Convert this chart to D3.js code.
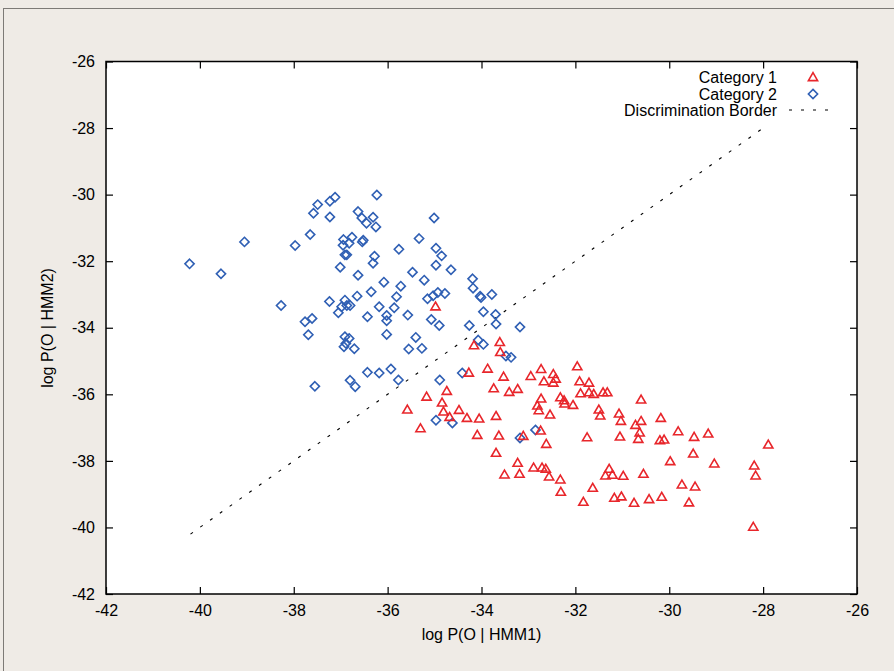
<!DOCTYPE html>
<html lang="en">
<head>
    <meta charset="utf-8">
    <title>HMM discrimination scatter</title>
    <style>
    body {
        margin: 0;
        background: #efebe6;
    }
    text {
        font-family: "Liberation Sans", Arial, Helvetica, sans-serif;
        fill: black;
    }
    </style>
    <script src="https://d3js.org/d3.v7.min.js"></script>
</head>
<body>
<script type="text/javascript">
// Category 1 (red triangles)
const cat1X = [-34.98,-34.16,-33.61,-33.60,-34.27,-33.87,-33.53,-32.95,-32.73,-32.67,
    -32.47,-32.42,-32.47,-33.74,-33.41,-33.23,-34.74,-35.17,-35.58,-34.84,
    -34.81,-34.48,-34.68,-34.31,-34.05,-33.69,-32.73,-32.81,-32.78,-32.54,
    -32.32,-35.30,-31.96,-31.91,-34.09,-33.63,-33.11,-32.74,-32.62,-33.69,
    -33.23,-33.51,-33.19,-32.89,-32.71,-32.63,-32.56,-32.32,-32.31,-32.24,
    -32.23,-32.05,-31.71,-31.89,-31.71,-31.61,-31.41,-31.32,-30.60,-31.50,
    -31.47,-31.07,-31.03,-30.60,-30.72,-30.18,-30.63,-30.66,-31.05,-31.75,
    -29.81,-30.20,-30.11,-29.47,-29.17,-27.89,-29.49,-29.98,-29.04,-28.19,
    -28.16,-31.28,-31.36,-31.21,-30.98,-30.55,-31.63,-31.83,-31.17,-31.02,
    -30.75,-30.43,-30.16,-29.73,-29.45,-29.58,-28.21];
const cat1Y = [-33.37,-34.54,-34.44,-34.74,-35.36,-35.24,-35.48,-35.46,-35.25,-35.62,
    -35.40,-35.54,-35.66,-35.83,-35.94,-35.85,-35.91,-36.08,-36.47,-36.26,
    -36.53,-36.48,-36.69,-36.72,-36.74,-36.66,-36.14,-36.35,-36.49,-36.62,
    -36.10,-37.03,-35.17,-35.62,-37.23,-37.25,-37.26,-37.10,-37.50,-37.77,
    -38.07,-38.42,-38.40,-38.21,-38.21,-38.25,-38.48,-38.57,-38.94,-36.19,
    -36.29,-36.33,-35.66,-35.98,-35.95,-36.00,-35.95,-35.95,-36.17,-36.47,
    -36.65,-36.59,-36.81,-36.81,-36.93,-36.72,-37.16,-37.35,-37.28,-37.30,
    -37.12,-37.39,-37.37,-37.29,-37.19,-37.52,-37.79,-38.02,-38.09,-38.15,
    -38.45,-38.25,-38.45,-38.43,-38.46,-38.40,-38.82,-39.24,-39.12,-39.08,
    -39.27,-39.16,-39.09,-38.72,-38.78,-39.26,-39.99];

// Category 2 (blue diamonds)
const cat2X = [-40.22,-39.55,-39.05,-38.27,-37.97,-37.65,-37.58,-37.49,-37.23,-37.12,
    -37.23,-37.76,-37.61,-37.69,-37.24,-37.01,-36.91,-36.87,-36.95,-36.94,
    -36.82,-36.76,-36.63,-36.55,-36.45,-36.54,-36.52,-36.63,-36.65,-36.91,
    -36.98,-36.87,-36.80,-37.05,-36.43,-36.91,-36.82,-36.89,-36.93,-36.71,
    -36.43,-37.55,-36.80,-36.69,-36.23,-36.31,-36.25,-36.28,-36.31,-35.76,
    -35.33,-35.01,-34.97,-34.85,-34.97,-35.47,-35.22,-36.08,-35.72,-36.35,
    -35.81,-35.15,-35.03,-34.93,-34.78,-36.18,-35.86,-35.57,-36.02,-36.02,
    -35.07,-34.90,-36.02,-35.40,-35.55,-35.27,-36.18,-35.93,-35.77,-34.89,
    -34.65,-34.19,-34.18,-34.03,-34.01,-33.78,-33.96,-33.70,-33.69,-34.26,
    -33.18,-34.07,-33.96,-33.48,-33.37,-34.41,-34.97,-34.62,-32.85,-33.18];
const cat2Y = [-32.08,-32.38,-31.42,-33.33,-31.53,-31.20,-30.56,-30.30,-30.20,-30.08,
    -30.67,-33.82,-33.72,-34.21,-33.21,-32.18,-31.81,-31.81,-31.52,-31.35,
    -31.46,-31.28,-30.51,-30.70,-30.86,-31.42,-31.37,-32.42,-33.05,-33.17,
    -33.37,-33.33,-33.33,-33.55,-33.67,-34.27,-34.32,-34.47,-34.57,-34.63,
    -35.34,-35.76,-35.58,-35.77,-30.01,-30.68,-30.97,-31.85,-32.06,-31.64,
    -31.32,-30.70,-31.61,-31.84,-32.12,-32.33,-32.57,-32.63,-32.75,-32.92,
    -33.07,-33.13,-33.04,-32.94,-32.97,-33.37,-33.40,-33.62,-33.63,-33.79,
    -33.75,-33.93,-34.20,-34.29,-34.64,-34.62,-35.36,-35.24,-35.57,-35.57,
    -32.26,-32.53,-32.81,-33.05,-33.09,-33.00,-33.52,-33.60,-33.89,-33.93,
    -33.98,-34.37,-34.50,-34.85,-34.89,-35.36,-36.78,-36.86,-37.07,-37.31];

// discrimination border y = x
const borderX = [-40.2, -27.9];
const borderY = [-40.2, -27.9];

const xTicks = [-42, -40, -38, -36, -34, -32, -30, -28, -26];
const yTicks = [-42, -40, -38, -36, -34, -32, -30, -28, -26];

const width = 894;
const height = 671;
const margin = {left: 106, top: 61.5, right: 37, bottom: 77};
const innerW = width - margin.left - margin.right;
const innerH = height - margin.top - margin.bottom;

const red = "#e8262b";
const blue = "#2f5fb4";

const svg = d3.select("body").append("svg")
    .attr("width", width)
    .attr("height", height);

// outer frame like the page border in the original
svg.append("rect")
    .attr("x", 3.5).attr("y", 8.5)
    .attr("width", width).attr("height", height)
    .attr("fill", "#efebe6")
    .attr("stroke", "#7d7a76")
    .attr("stroke-width", 1);

const x = d3.scaleLinear().domain([-42, -26]).range([0, innerW]);
const y = d3.scaleLinear().domain([-42, -26]).range([innerH, 0]);

const g = svg.append("g")
    .attr("transform", `translate(${margin.left},${margin.top})`);

g.append("rect")
    .attr("width", innerW)
    .attr("height", innerH)
    .attr("fill", "white");

// axes, ticks pointing inward; plain hyphen minus like the original
const fmt = d => String(d);
g.append("g")
    .attr("transform", `translate(0,${innerH})`)
    .call(d3.axisBottom(x).tickValues(xTicks).tickFormat(fmt).tickSizeInner(-7).tickSizeOuter(0).tickPadding(11))
    .call(a => a.select(".domain").remove());
g.append("g")
    .call(d3.axisLeft(y).tickValues(yTicks).tickFormat(fmt).tickSizeInner(-7).tickSizeOuter(0).tickPadding(11))
    .call(a => a.select(".domain").remove());
g.append("g")
    .call(d3.axisTop(x).tickValues(xTicks).tickFormat("").tickSizeInner(-7).tickSizeOuter(0))
    .call(a => a.select(".domain").remove());
g.append("g")
    .attr("transform", `translate(${innerW},0)`)
    .call(d3.axisRight(y).tickValues(yTicks).tickFormat("").tickSizeInner(-7).tickSizeOuter(0))
    .call(a => a.select(".domain").remove());

g.selectAll(".tick line").attr("stroke", "black").attr("stroke-width", 1.2);
g.selectAll(".tick text")
    .style("font-size", "16px")
    .style("font-family", "'Liberation Sans', Arial, sans-serif");

// border line
const line = d3.line().x(d => x(d[0])).y(d => y(d[1]));
g.append("path")
    .datum(d3.zip(borderX, borderY))
    .attr("d", line)
    .attr("fill", "none")
    .attr("stroke", "black")
    .attr("stroke-width", 1.1)
    .attr("stroke-dasharray", "3,9");

const triPath = "M0,-4.8L4.6,3.1L-4.6,3.1Z";
const diaPath = "M0,-4.6L4.6,0L0,4.6L-4.6,0Z";

g.selectAll(".cat2")
    .data(d3.zip(cat2X, cat2Y))
    .enter().append("path")
    .attr("class", "cat2")
    .attr("d", diaPath)
    .attr("transform", d => `translate(${x(d[0])},${y(d[1])})`)
    .attr("fill", "none")
    .attr("stroke", blue)
    .attr("stroke-width", 1.6);

g.selectAll(".cat1")
    .data(d3.zip(cat1X, cat1Y))
    .enter().append("path")
    .attr("class", "cat1")
    .attr("d", triPath)
    .attr("transform", d => `translate(${x(d[0])},${y(d[1])})`)
    .attr("fill", "none")
    .attr("stroke", red)
    .attr("stroke-width", 1.6);

// frame
g.append("rect")
    .attr("width", innerW)
    .attr("height", innerH)
    .attr("fill", "none")
    .attr("stroke", "black")
    .attr("stroke-width", 1.5);

// legend
const legend = svg.append("g").attr("transform", "translate(777,0)");
const legendItems = ["Category 1", "Category 2", "Discrimination Border"];
const legendY = [77.5, 94, 110];
legend.selectAll("text")
    .data(legendItems)
    .enter().append("text")
    .attr("x", 0)
    .attr("y", (d, i) => legendY[i])
    .attr("dy", "0.35em")
    .attr("text-anchor", "end")
    .style("font-size", "16px")
    .text(d => d);
legend.append("path")
    .attr("d", triPath)
    .attr("transform", `translate(36,${legendY[0]})`)
    .attr("fill", "none").attr("stroke", red).attr("stroke-width", 1.6);
legend.append("path")
    .attr("d", diaPath)
    .attr("transform", `translate(36,${legendY[1]})`)
    .attr("fill", "none").attr("stroke", blue).attr("stroke-width", 1.6);
legend.append("line")
    .attr("x1", 12).attr("x2", 54)
    .attr("y1", legendY[2]).attr("y2", legendY[2])
    .attr("stroke", "black").attr("stroke-width", 1.1)
    .attr("stroke-dasharray", "3,9");

// axis titles
svg.append("text")
    .attr("x", margin.left + innerW / 2)
    .attr("y", 634)
    .attr("dy", "0.35em")
    .attr("text-anchor", "middle")
    .style("font-size", "16px")
    .text("log P(O | HMM1)");
svg.append("text")
    .attr("transform", "translate(47,328) rotate(-90)")
    .attr("dy", "0.35em")
    .attr("text-anchor", "middle")
    .style("font-size", "16px")
    .text("log P(O | HMM2)");
</script>
</body>
</html>
